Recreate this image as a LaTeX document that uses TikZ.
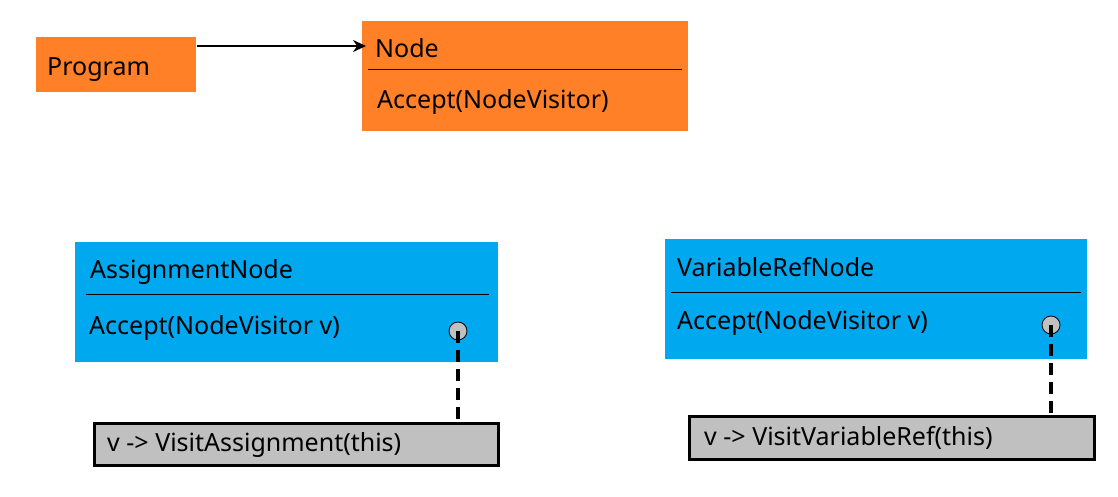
\documentclass[tikz,border=0pt]{standalone}
\usepackage{fontspec}
\setmainfont{Noto Sans}
\usetikzlibrary{calc,arrows.meta}

\definecolor{nodeorange}{RGB}{255,128,39}
\definecolor{nodeblue}{RGB}{0,168,240}
\definecolor{notegray}{RGB}{192,192,192}

\tikzset{
    box/.style={rectangle, inner sep=0, outer sep=0, anchor=north west},
    txt/.style={anchor=base west, inner sep=0, font=\fontsize{25}{30}\selectfont},
    notebox/.style={box, fill=notegray, draw=black, line width=3},
    dot/.style={circle, fill=notegray, draw=black, line width=0.8, minimum size=18, inner sep=0},
    dashline/.style={line width=4.5, dash pattern=on 12 off 7},
}

\begin{document}
\begin{tikzpicture}[x=1pt, y=-1pt]
    \useasboundingbox (0,0) rectangle (1118,496);

    % Program and Node
    \node[box, fill=nodeorange, minimum width=160, minimum height=55] (program) at (36,37) {};
    \node[txt] (programtxt) at (47,75) {Program};
    \node[box, fill=nodeorange, minimum width=326, minimum height=110] (node) at (362,21) {};
    \node[txt] (nodetxt) at (375,57) {Node};
    \draw[line width=0.8] (368,69) -- (682,69);
    \node[txt] (nodeaccept) at (377,108) {Accept(NodeVisitor)};
    \draw[line width=2.8, -{Stealth[length=13, width=12]}] ($(program.north east)+(1,9)$) -- ($(node.north west)+(4,25)$);

    % AssignmentNode
    \node[box, fill=nodeblue, minimum width=423, minimum height=120] (assign) at (75,242) {};
    \node[txt] (assigntxt) at (90,278) {AssignmentNode};
    \draw[line width=0.8] (86,294) -- (489,294);
    \node[txt] (assignaccept) at (89,334) {Accept(NodeVisitor v)};
    \node[dot] (assigndot) at (458,331) {};
    \node[notebox, minimum width=404, minimum height=42] (assignnote) at (94,423) {};
    \node[txt] (assignnotetxt) at (107,451) {v -> VisitAssignment(this)};
    \draw[dashline] (assigndot.center) -- (assigndot |- assignnote.north);

    % VariableRefNode
    \node[box, fill=nodeblue, minimum width=422, minimum height=120] (varref) at (665,239) {};
    \node[txt] (varreftxt) at (677,276) {VariableRefNode};
    \draw[line width=0.8] (671,292) -- (1081,292);
    \node[txt] (varrefaccept) at (677,329) {Accept(NodeVisitor v)};
    \node[dot] (varrefdot) at (1051,325) {};
    \node[notebox, minimum width=405, minimum height=43] (varrefnote) at (689,416) {};
    \node[txt] (varrefnotetxt) at (704,445) {v -> VisitVariableRef(this)};
    \draw[dashline] (varrefdot.center) -- (varrefdot |- varrefnote.north);

\end{tikzpicture}
\end{document}
